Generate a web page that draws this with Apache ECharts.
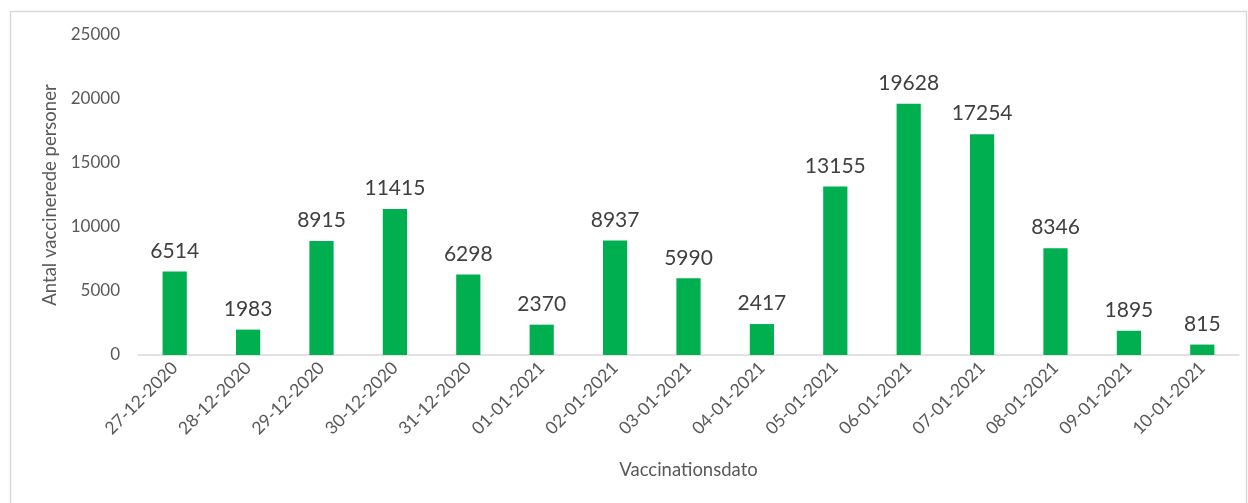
<!DOCTYPE html>
<html><head><meta charset="utf-8">
<script src="https://cdn.jsdelivr.net/npm/echarts@6/dist/echarts.min.js"></script>
<style>html,body{margin:0;padding:0;background:#fff}#c{width:1248px;height:503px}</style>
</head><body><div id="c"></div>
<script>
const categories = ["27-12-2020","28-12-2020","29-12-2020","30-12-2020","31-12-2020","01-01-2021","02-01-2021","03-01-2021","04-01-2021","05-01-2021","06-01-2021","07-01-2021","08-01-2021","09-01-2021","10-01-2021"];
const vaccinated = [6514,1983,8915,11415,6298,2370,8937,5990,2417,13155,19628,17254,8346,1895,815];
const yTitle = "Antal vaccinerede personer";
const xTitle = "Vaccinationsdato";
const FONT = "Lato";
const chart = echarts.init(document.getElementById('c'));
chart.setOption({
  animation:false,
  textStyle:{fontFamily:FONT},
  graphic:[{type:'rect',shape:{x:10.5,y:11.5,width:1236,height:520},style:{fill:'none',stroke:'#D9D9D9',lineWidth:1.5},silent:true}],
  grid:{left:138,right:9,top:35,bottom:148,containLabel:false},
  xAxis:{type:'category',data:categories,
    axisLine:{lineStyle:{color:'#D9D9D9',width:1.5}},axisTick:{show:false},
    axisLabel:{rotate:45,color:'#595959',fontSize:17.5,fontFamily:FONT,margin:10,interval:0},
    name:xTitle,nameLocation:'middle',nameGap:106,nameTextStyle:{color:'#595959',fontSize:18.5,fontFamily:FONT}},
  yAxis:{type:'value',min:0,max:25000,interval:5000,
    splitLine:{show:false},axisLine:{show:false},axisTick:{show:false},
    axisLabel:{color:'#595959',fontSize:17,fontFamily:FONT,margin:18,formatter:v=>String(v)},
    name:yTitle,nameLocation:'middle',nameGap:66,nameTextStyle:{color:'#595959',fontSize:18.5,fontFamily:FONT}},
  series:[{type:'bar',data:vaccinated,barWidth:'33%',itemStyle:{color:'#00B050'},
    label:{show:true,position:'top',distance:10,color:'#404040',fontSize:21,fontFamily:FONT}}]
});
</script></body></html>
